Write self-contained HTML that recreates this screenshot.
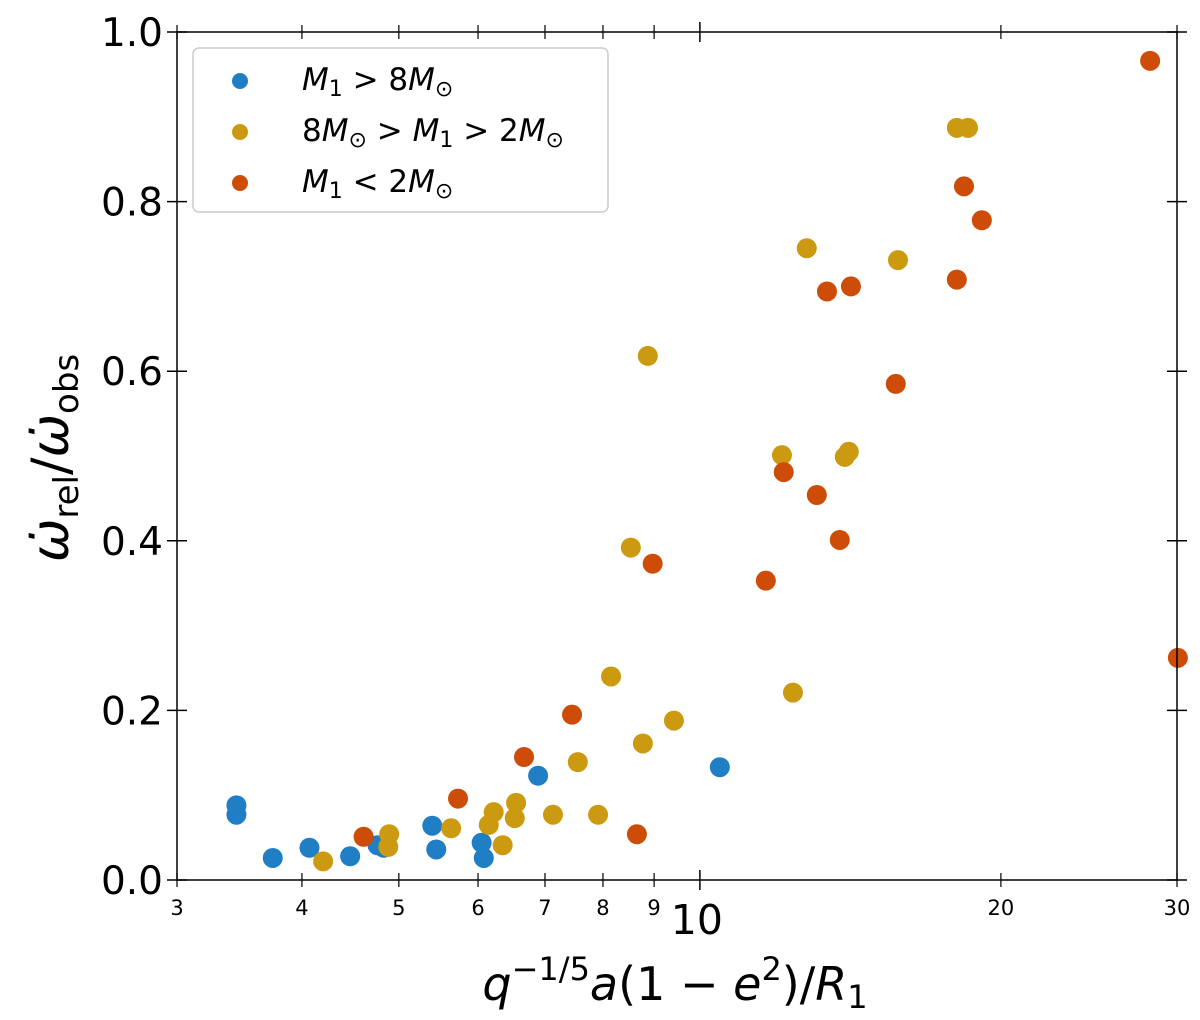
<!DOCTYPE html>
<html><head><meta charset="utf-8"><style>
body{margin:0;background:#fff;}
svg{display:block;font-family:"DejaVu Sans","Liberation Sans",sans-serif;}
</style></head><body>
<svg id="chart" width="1200" height="1020" viewBox="0 0 1200 1020">
<g id="marks"></g>
<g id="axes"></g>
</svg>
<script>
const blueX=[3.44,3.44,3.74,4.07,4.47,4.76,4.83,5.40,5.45,6.05,6.08,6.89,10.47];
const blueY=[0.088,0.077,0.026,0.038,0.028,0.041,0.038,0.064,0.036,0.044,0.026,0.123,0.133];
const goldX=[4.20,4.89,4.88,5.64,6.15,6.22,6.35,6.53,6.55,7.13,7.55,7.91,8.15,8.53,8.77,8.87,9.42,12.08,12.39,12.79,13.96,14.09,15.78,18.07,18.54];
const goldY=[0.022,0.054,0.039,0.061,0.065,0.080,0.041,0.073,0.091,0.077,0.139,0.077,0.240,0.392,0.161,0.618,0.188,0.501,0.221,0.745,0.499,0.505,0.731,0.887,0.887];
const redX=[4.61,5.73,6.67,7.45,8.65,8.97,11.64,12.13,13.09,13.40,13.80,14.16,15.70,18.07,18.37,19.14,28.2,30.06];
const redY=[0.051,0.096,0.145,0.195,0.054,0.373,0.353,0.481,0.454,0.694,0.401,0.700,0.585,0.708,0.818,0.778,0.966,0.262];
const yTicks=[0,0.2,0.4,0.6,0.8,1.0];
const yTickLabels=["0.0","0.2","0.4","0.6","0.8","1.0"];
const xMinor=[3,4,5,6,7,8,9,20,30];
const xMinorLabels=["3","4","5","6","7","8","9","20","30"];
const xMajor=[10];

const L=177,R=1177,T=32,B=880;
const xs=v=>L+(Math.log10(v)-Math.log10(3))*(R-L);
const ys=v=>B-v*(B-T);
const NS="http://www.w3.org/2000/svg";
function mk(tag,attrs,parent){const e=document.createElementNS(NS,tag);for(const k in attrs)e.setAttribute(k,attrs[k]);parent.appendChild(e);return e;}
const marks=document.getElementById('marks'),axes=document.getElementById('axes');

function series(X,Y,color,name){
  const g=mk('g',{},marks);
  
  
  X.forEach((x,i)=>{
    const c=mk('circle',{cx:xs(x),cy:ys(Y[i]),r:10,fill:color},g);
    
    
  });
}
series(blueX,blueY,'#1f7ec4','blue');
series(goldX,goldY,'#cc9a10','gold');
series(redX,redY,'#cc4c08','red');

const frame=mk('rect',{x:L,y:T,width:R-L,height:B-T,fill:'none',stroke:'#000','stroke-width':1.5},axes);



yTicks.forEach((v,i)=>{
  const y=ys(v);
  mk('line',{x1:L-10,x2:L+10,y1:y,y2:y,stroke:'#000','stroke-width':1.5},axes);
  mk('line',{x1:R-10,x2:R+10,y1:y,y2:y,stroke:'#000','stroke-width':1.5},axes);
  const t=mk('text',{x:L-14,y:y+14,'text-anchor':'end','font-size':39},axes);
  t.textContent=yTickLabels[i];
  
  
});
xMinor.forEach((v,i)=>{
  const x=xs(v);
  mk('line',{x1:x,x2:x,y1:B-7,y2:B+7,stroke:'#000','stroke-width':1.2},axes);
  mk('line',{x1:x,x2:x,y1:T-7,y2:T+7,stroke:'#000','stroke-width':1.2},axes);
  const t=mk('text',{x:x,y:B+35,'text-anchor':'middle','font-size':21},axes);
  t.textContent=xMinorLabels[i];
  
  
});
xMajor.forEach(v=>{
  const x=xs(v);
  mk('line',{x1:x,x2:x,y1:B-10,y2:B+10,stroke:'#000','stroke-width':1.5},axes);
  mk('line',{x1:x,x2:x,y1:T-10,y2:T+10,stroke:'#000','stroke-width':1.5},axes);
  const t=mk('text',{x:x-3,y:B+54,'text-anchor':'middle','font-size':41},axes);
  t.textContent=String(v);
  
  
});
</script>
<svg width="1200" height="1020" style="position:absolute;left:0;top:0">
<g font-family="'DejaVu Sans','Liberation Sans',sans-serif">
<text x="675" y="1000" text-anchor="middle" font-size="46"><tspan font-style="italic">q</tspan><tspan font-size="32" dy="-20">−1/5</tspan><tspan dy="20" font-style="italic">a</tspan>(1 − <tspan font-style="italic">e</tspan><tspan font-size="32" dy="-20">2</tspan><tspan dy="20">)/</tspan><tspan font-style="italic">R</tspan><tspan font-size="32" dy="8">1</tspan></text>
<text transform="translate(68,458) rotate(-90)" text-anchor="middle" font-size="52"><tspan font-style="italic">ω̇</tspan><tspan font-size="34" dy="10">rel</tspan><tspan dy="-10">/</tspan><tspan font-style="italic">ω̇</tspan><tspan font-size="34" dy="10">obs</tspan></text>
<g>
<rect x="193" y="48" width="415" height="164" rx="6" fill="#fff" stroke="#ccc" stroke-width="1.5"/>
<circle cx="240" cy="81" r="8" fill="#1f7ec4"/>
<text x="302" y="90" font-size="31"><tspan font-style="italic">M</tspan><tspan font-size="22" dy="6">1</tspan><tspan dy="-6"> &gt; 8</tspan><tspan font-style="italic">M</tspan><tspan font-size="22" dy="6">⊙</tspan></text>
<circle cx="240" cy="132" r="8" fill="#cc9a10"/>
<text x="302" y="141" font-size="31">8<tspan font-style="italic">M</tspan><tspan font-size="22" dy="6">⊙</tspan><tspan dy="-6"> &gt; </tspan><tspan font-style="italic">M</tspan><tspan font-size="22" dy="6">1</tspan><tspan dy="-6"> &gt; 2</tspan><tspan font-style="italic">M</tspan><tspan font-size="22" dy="6">⊙</tspan></text>
<circle cx="240" cy="183" r="8" fill="#cc4c08"/>
<text x="302" y="192" font-size="31"><tspan font-style="italic">M</tspan><tspan font-size="22" dy="6">1</tspan><tspan dy="-6"> &lt; 2</tspan><tspan font-style="italic">M</tspan><tspan font-size="22" dy="6">⊙</tspan></text>
</g>
</g>
</svg>
</body></html>
